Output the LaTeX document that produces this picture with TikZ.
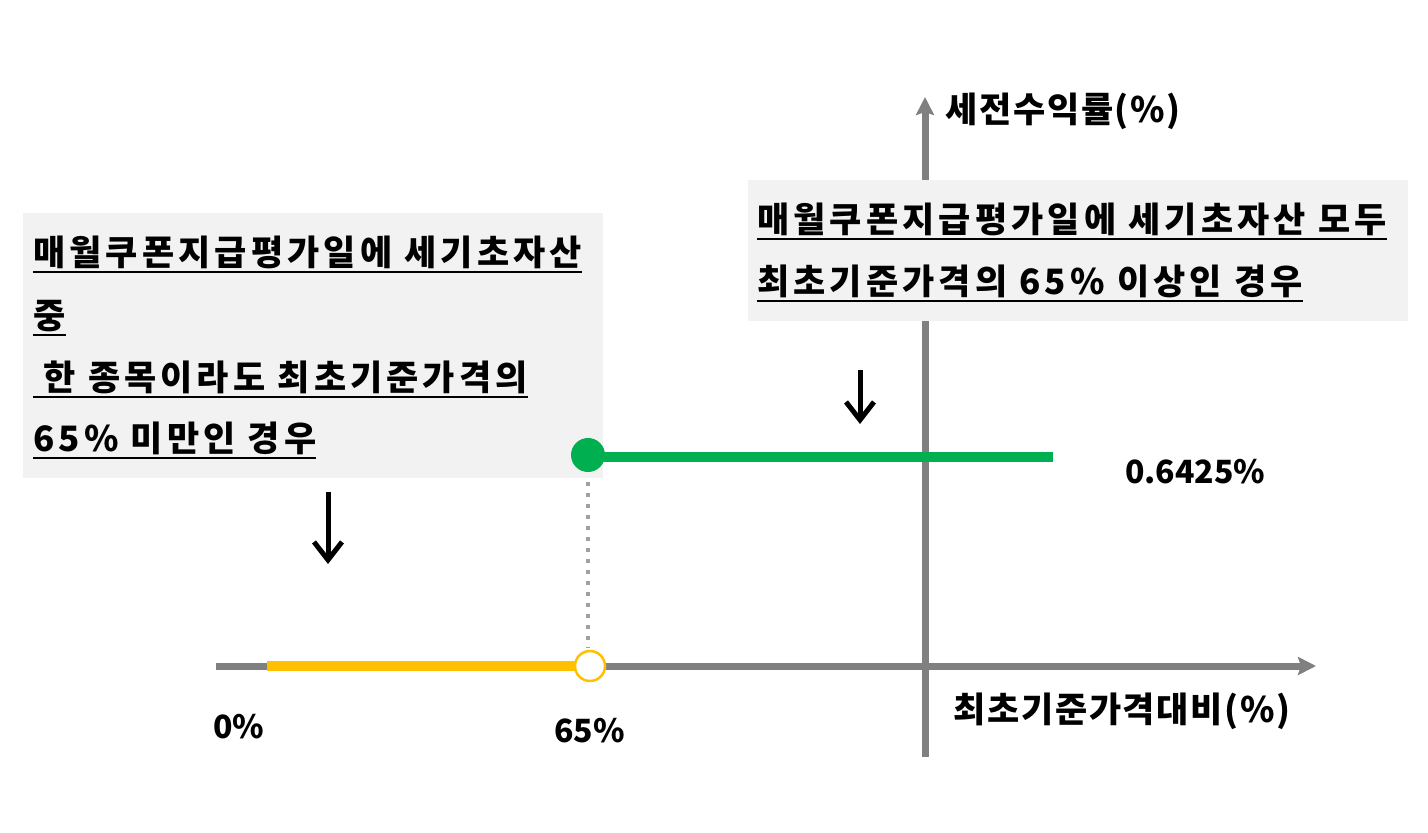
\documentclass[tikz,border=0pt]{standalone}
\usepackage{fontspec}
\setmainfont{Noto Sans CJK KR}
\newfontfamily\kboxfam{Noto Sans CJK KR}[LetterSpace=11.8]
\newfontfamily\kaxfam{Noto Sans CJK KR}[LetterSpace=5]
\usetikzlibrary{arrows.meta}
\definecolor{axisgray}{RGB}{128,128,128}
\definecolor{dotgray}{RGB}{160,160,160}
\definecolor{boxfill}{RGB}{242,242,242}
\definecolor{pgreen}{RGB}{0,176,80}
\definecolor{pyellow}{RGB}{255,192,0}
\newcommand{\kfont}{\kboxfam\fontsize{35}{42}\selectfont\bfseries}
\newcommand{\afont}{\kaxfam\fontsize{35}{42}\selectfont\bfseries}
\newcommand{\nfont}{\fontsize{32}{38}\selectfont\bfseries}
\begin{document}
\begin{tikzpicture}[x=1pt,y=-1pt,
  txt/.style={font=\kfont, inner sep=0pt, anchor=base west, text=black},
  axtxt/.style={font=\afont, inner sep=0pt, anchor=base west, text=black},
  numtxt/.style={font=\nfont, inner sep=0pt, anchor=base west, text=black},
  uline/.style={line width=2pt, black},
  axisline/.style={line width=7pt, axisgray},
  note/.style={fill=boxfill, draw=none},
  downarrow/.style={line width=5pt, black, -{Straight Barb[length=18pt,width=28pt,line width=5pt]}}]
\useasboundingbox[fill=white] (0,0) rectangle (1428,833);
% axes
\coordinate (xs) at (216,666);
\coordinate (xe) at (1316,666);
\coordinate (ys) at (925,757);
\coordinate (ye) at (925,97);
\draw[axisline, -{Stealth[length=18pt,width=18pt,inset=3pt]}] (xs) -- (xe);
\draw[axisline, -{Stealth[length=18pt,width=18pt,inset=3pt]}] (ys) -- (ye);
% boxes
\path[note] (23,213) rectangle (603,478);
\path[note] (748,180) rectangle (1408,321);
% box texts
\node[txt] (L1) at (33,265) {매월쿠폰지급평가일에 세기초자산};
\node[txt] (L2) at (33,328) {중};
\node[txt] (L3) at (33,390) {\hspace*{0.3em}한 종목이라도 최초기준가격의};
\node[txt] (L4) at (33,451) {65\% 미만인 경우};
\node[txt] (R1) at (757,232) {매월쿠폰지급평가일에 세기초자산 모두};
\node[txt] (R2) at (757,294) {최초기준가격의 65\% 이상인 경우};
\foreach \n in {L1,L2,L3,L4,R1,R2}{
  \draw[uline] ([yshift=-7pt]\n.base west) -- ([yshift=-7pt]\n.base east);
}
% labels
\node[axtxt] (ylab) at (945,122) {세전수익률(\%)};
\node[numtxt] (val) at (1125,483) {0.6425\%};
\node[axtxt] (xlab) at (953,722) {최초기준가격대비(\%)};
\node[numtxt] (zero) at (213,738) {0\%};
\node[numtxt] (sf) at (554,742) {65\%};
% down arrows
\coordinate (a1s) at (328,492);
\coordinate (a1e) at (328,564);
\coordinate (a2s) at (860,370);
\coordinate (a2e) at (860,424);
\draw[downarrow] (a1s) -- (a1e);
\draw[downarrow] (a2s) -- (a2e);
% payoff
\coordinate (gs) at (588,457);
\coordinate (ge) at (1053,457);
\coordinate (ys1) at (267,666);
\coordinate (oc) at (590,666);
\draw[dotgray, line width=4pt, dash pattern=on 4pt off 7pt] (588,482) -- (588,648);
\draw[pyellow, line width=10pt] (ys1) -- (oc);
\draw[pgreen, line width=10pt] (gs) -- (ge);
\node[circle, fill=pgreen, minimum size=34pt, inner sep=0pt] (gdot) at (588,455) {};
\node[circle, fill=white, draw=pyellow, line width=2.5pt, minimum size=30pt, inner sep=0pt] (odot) at (oc) {};
\end{tikzpicture}
\end{document}
